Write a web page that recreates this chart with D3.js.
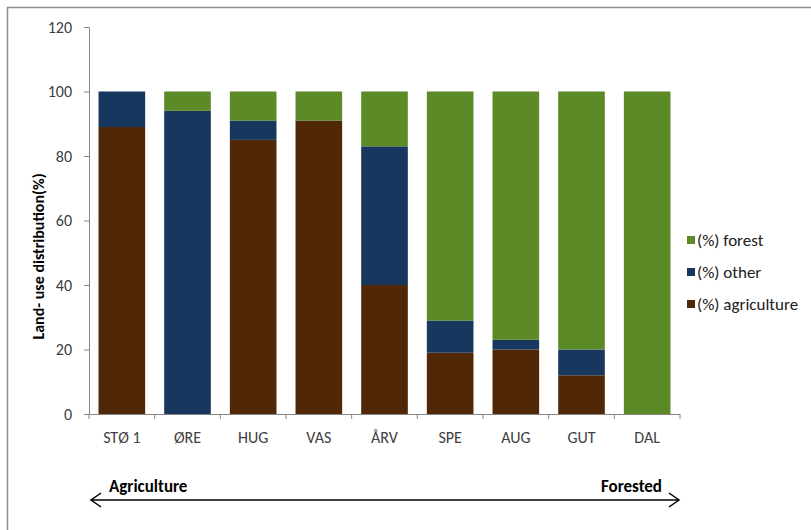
<!DOCTYPE html>
<html>
<head>
<meta charset="utf-8">
<script src="https://cdn.jsdelivr.net/npm/d3@7"></script>
<style>
  body { margin: 0; background: #fff; }
  text { font-family: Carlito, "Noto Sans", "Open Sans", sans-serif; }
</style>
</head>
<body>
<div id="chart-area"></div>
<script>
// data
const sites       = ["STØ 1", "ØRE", "HUG", "VAS", "ÅRV", "SPE", "AUG", "GUT", "DAL"];
const agriculture = [89, 0, 85, 91, 40, 19, 20, 12, 0];
const other       = [11, 94, 6, 0, 43, 10, 3, 8, 0];
const forest      = [0, 6, 9, 9, 17, 71, 77, 80, 100];
const seriesNames = ["(%) agriculture", "(%) other", "(%) forest"];
const yTicks      = [0, 20, 40, 60, 80, 100, 120];

const COLORS = {"(%) agriculture": "#512807", "(%) other": "#17375e", "(%) forest": "#5c8a27"};

const W = 811, H = 530;
const MARGIN = {left: 89, right: 131, top: 27, bottom: 116};

const svg = d3.select("#chart-area").append("svg")
    .attr("width", W)
    .attr("height", H);

// frame (only top and left edges show)
svg.append("path")
    .attr("d", `M7.5,${H} V7.5 H${W}`)
    .attr("fill", "none")
    .attr("stroke", "#8c8c8c")
    .attr("stroke-width", 1.5);

const rows = sites.map((s, i) => ({
    site: s,
    "(%) agriculture": agriculture[i],
    "(%) other": other[i],
    "(%) forest": forest[i]
}));

const stacked = d3.stack().keys(seriesNames)(rows);

const x = d3.scaleBand()
    .domain(sites)
    .range([MARGIN.left, W - MARGIN.right])
    .paddingInner(0.29)
    .paddingOuter(0.145);

const y = d3.scaleLinear()
    .domain([0, 120])
    .range([H - MARGIN.bottom, MARGIN.top]);

// y axis
const yAxis = svg.append("g")
    .attr("transform", `translate(${MARGIN.left},0)`)
    .call(d3.axisLeft(y).tickValues(yTicks).tickSize(5).tickPadding(12));
yAxis.select(".domain").attr("stroke", "#868686");
yAxis.selectAll(".tick line").attr("stroke", "#868686");
yAxis.selectAll(".tick text")
    .attr("fill", "#404040")
    .style("font-size", "16px");

// bars
svg.append("g").selectAll("g")
    .data(stacked)
    .join("g")
    .attr("fill", d => COLORS[d.key])
    .selectAll("rect")
    .data(d => d)
    .join("rect")
    .attr("x", d => x(d.data.site))
    .attr("y", d => y(d[1]))
    .attr("width", x.bandwidth())
    .attr("height", d => y(d[0]) - y(d[1]));

// x axis with ticks between categories
const xBase = y(0);
const step = x.step();
const xg = svg.append("g");
xg.append("line")
    .attr("x1", MARGIN.left).attr("x2", W - MARGIN.right)
    .attr("y1", xBase + 0.5).attr("y2", xBase + 0.5)
    .attr("stroke", "#868686");
xg.selectAll(".sep")
    .data(d3.range(sites.length + 1))
    .join("line")
    .attr("x1", i => MARGIN.left + i * step)
    .attr("x2", i => MARGIN.left + i * step)
    .attr("y1", xBase).attr("y2", xBase + 5)
    .attr("stroke", "#868686");
xg.selectAll(".lbl")
    .data(sites)
    .join("text")
    .attr("x", d => x(d) + x.bandwidth() / 2)
    .attr("y", xBase + 29)
    .attr("text-anchor", "middle")
    .attr("fill", "#404040")
    .style("font-size", "16px")
    .text(d => d);

// y axis title
svg.append("text")
    .attr("transform", `translate(44,${(y(0) + y(120)) / 2 + 36}) rotate(-90)`)
    .attr("text-anchor", "middle")
    .style("font-size", "16px")
    .style("font-weight", "bold")
    .text("Land- use distribution(%)");

// legend
const legend = svg.append("g")
    .attr("transform", "translate(687,236)");
const legendItems = seriesNames.slice().reverse();
legendItems.forEach((k, i) => {
    const g = legend.append("g").attr("transform", `translate(0,${i * 32})`);
    g.append("rect").attr("width", 8).attr("height", 8).attr("fill", COLORS[k]);
    g.append("text")
        .attr("x", 10).attr("y", 4).attr("dy", "0.35em")
        .attr("fill", "#202020")
        .style("font-size", "17px")
        .text(k);
});

// gradient arrow under the axis
const arrowY = 500;
const ax1 = 91, ax2 = 679;
svg.append("line")
    .attr("x1", ax1).attr("x2", ax2)
    .attr("y1", arrowY).attr("y2", arrowY)
    .attr("stroke", "#000").attr("stroke-width", 1.5);
svg.append("path")
    .attr("d", `M${ax1 + 10},${arrowY - 7} L${ax1},${arrowY} L${ax1 + 10},${arrowY + 7}`)
    .attr("fill", "none").attr("stroke", "#000").attr("stroke-width", 1.5);
svg.append("path")
    .attr("d", `M${ax2 - 10},${arrowY - 7} L${ax2},${arrowY} L${ax2 - 10},${arrowY + 7}`)
    .attr("fill", "none").attr("stroke", "#000").attr("stroke-width", 1.5);
svg.append("text")
    .attr("x", 109).attr("y", 492)
    .style("font-size", "17px").style("font-weight", "bold")
    .text("Agriculture");
svg.append("text")
    .attr("x", 662).attr("y", 492)
    .attr("text-anchor", "end")
    .style("font-size", "17px").style("font-weight", "bold")
    .text("Forested");
</script>
</body>
</html>
